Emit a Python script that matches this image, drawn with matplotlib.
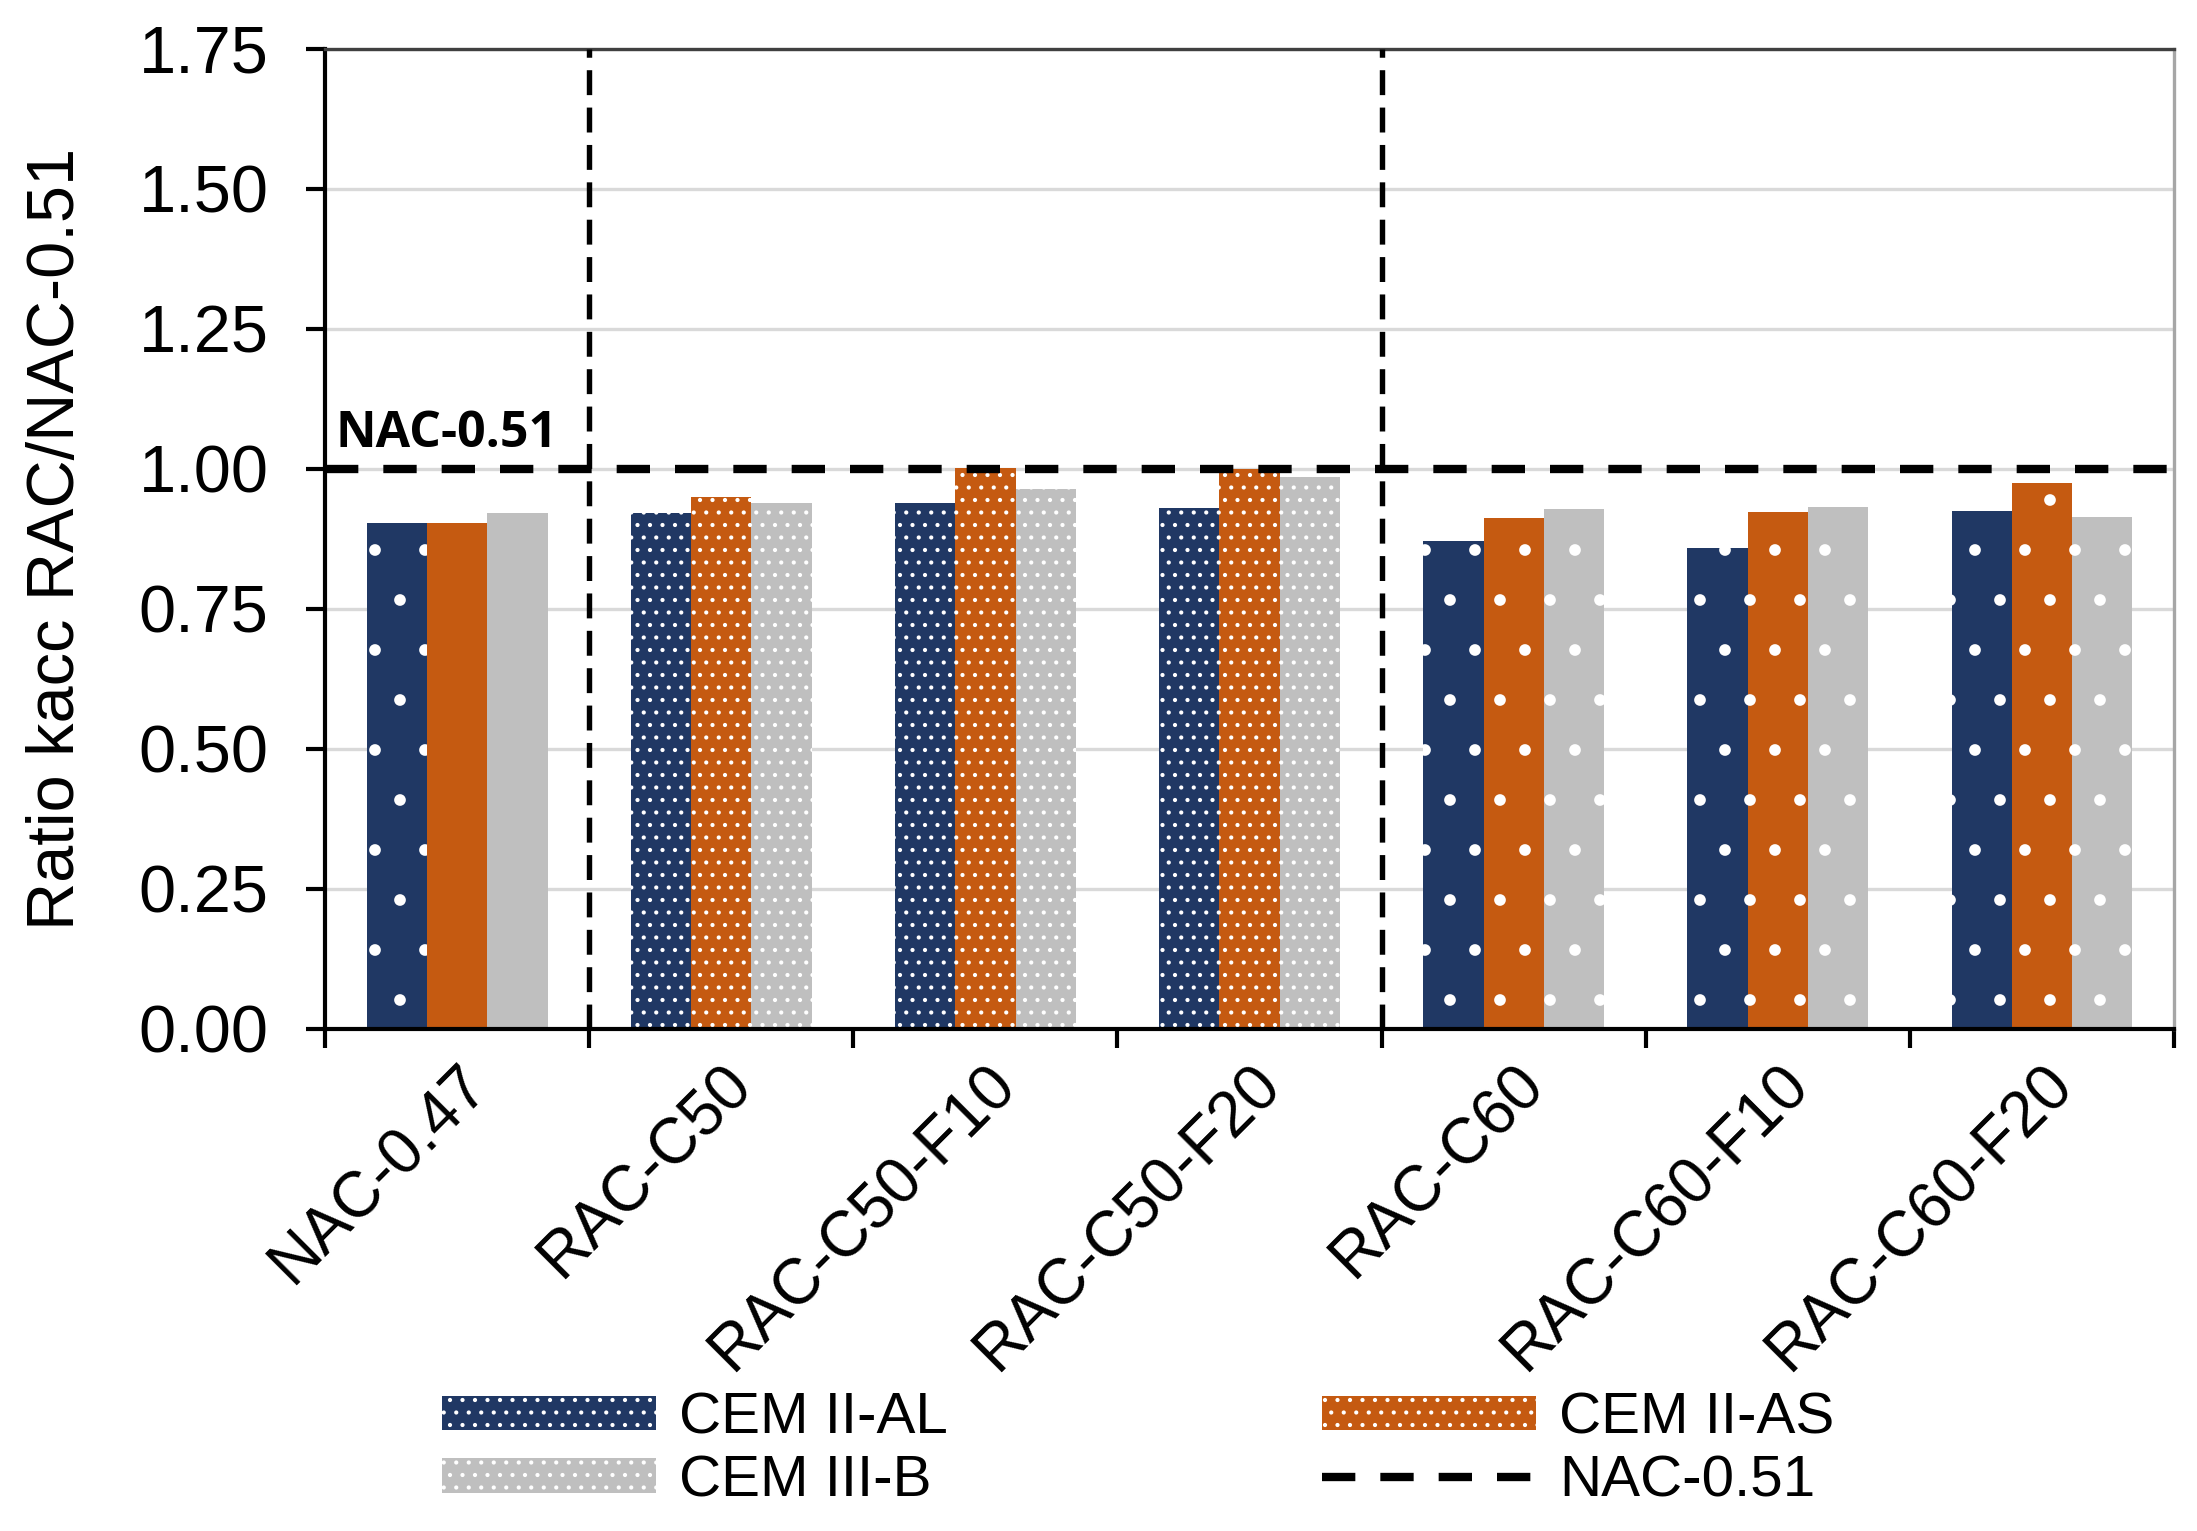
import numpy as np
import matplotlib
matplotlib.use('Agg')
import matplotlib.pyplot as plt
from matplotlib.patches import Patch
from matplotlib.lines import Line2D

# values
categories = ['NAC-0.47', 'RAC-C50', 'RAC-C50-F10', 'RAC-C50-F20',
              'RAC-C60', 'RAC-C60-F10', 'RAC-C60-F20']
series_names = ['CEM II-AL', 'CEM II-AS', 'CEM III-B']
cem_ii_al = [0.904, 0.921, 0.940, 0.930, 0.871, 0.859, 0.925]
cem_ii_as = [0.904, 0.950, 1.001, 1.000, 0.912, 0.923, 0.975]
cem_iii_b = [0.921, 0.940, 0.965, 0.986, 0.928, 0.932, 0.915]
ref_value = 1.0
ref_name = 'NAC-0.51'
yticks = [0.0, 0.25, 0.5, 0.75, 1.0, 1.25, 1.5, 1.75]
separators = [0.5, 3.5]

colors = ['#203864', '#C55A11', '#BFBFBF']
# dot texture per group and series: sparse '.', dense '....', none ''
hatches = [
    ['.', '....', '....', '....', '.', '.', '.'],
    ['', '....', '....', '....', '.', '.', '.'],
    ['', '....', '....', '....', '.', '.', '.'],
]

plt.rcParams['font.family'] = ['Liberation Sans', 'DejaVu Sans']
plt.rcParams['hatch.linewidth'] = 0.4

fig, ax = plt.subplots(figsize=(2197 / 300, 1531 / 300), dpi=300)
fig.subplots_adjust(left=0.148, right=0.9895, top=0.968, bottom=0.328)

x = np.arange(len(categories))
width = 0.228
data = [cem_ii_al, cem_ii_as, cem_iii_b]
for i, vals in enumerate(data):
    bars = ax.bar(x + (i - 1) * width, vals, width, color=colors[i],
                  edgecolor='white', linewidth=0, zorder=2)
    for b, h in zip(bars, hatches[i]):
        b.set_hatch(h)

ax.axhline(ref_value, color='black', lw=2, ls=(0, (4, 3)), zorder=5)
for s in separators:
    ax.axvline(s, color='black', lw=1.3, ls=(0, (4.6, 2.3)), zorder=5)

ax.text(-0.46, 1.04, ref_name, fontsize=12, fontweight='bold',
        family='Open Sans', ha='left', va='baseline')

ax.set_xlim(-0.5, len(categories) - 0.5)
ax.set_ylim(0, 1.75)
ax.set_yticks(yticks)
ax.set_yticklabels([f'{v:.2f}' for v in yticks], fontsize=16)
ax.set_ylabel('Ratio kacc RAC/NAC-0.51', fontsize=16, labelpad=12)

ax.set_xticks(np.arange(-0.5, len(categories), 1))
ax.set_xticklabels([])
ax.set_xticks(x, minor=True)
ax.set_xticklabels(categories, minor=True, rotation=45, ha='right',
                   rotation_mode='anchor', fontsize=15.3)
ax.tick_params(axis='x', which='major', direction='out', length=4.6, width=1)
ax.tick_params(axis='x', which='minor', length=0, pad=6)
ax.tick_params(axis='y', direction='out', length=4.6, width=1, pad=9)

ax.yaxis.grid(True, color='#D9D9D9', lw=0.8)
ax.set_axisbelow(True)
ax.spines['left'].set_linewidth(1)
ax.spines['bottom'].set_linewidth(1)
ax.spines['top'].set_color('#404040')
ax.spines['top'].set_linewidth(0.8)
ax.spines['right'].set_color('#A6A6A6')
ax.spines['right'].set_linewidth(0.8)

handles = [Patch(facecolor=colors[0], edgecolor='white', lw=0, hatch='....'),
           Patch(facecolor=colors[2], edgecolor='white', lw=0, hatch='....'),
           Patch(facecolor=colors[1], edgecolor='white', lw=0, hatch='....'),
           Line2D([], [], color='black', lw=2, ls=(0, (4, 3)))]
labels = [series_names[0], series_names[2], series_names[1], ref_name]
fig.legend(handles, labels, ncol=2, loc='center', bbox_to_anchor=(0.518, 0.053),
           frameon=False, fontsize=14, handlelength=3.67, handleheight=0.53,
           handletextpad=0.4, columnspacing=6.4, labelspacing=0.15)

fig.savefig('out.png', dpi=300)
